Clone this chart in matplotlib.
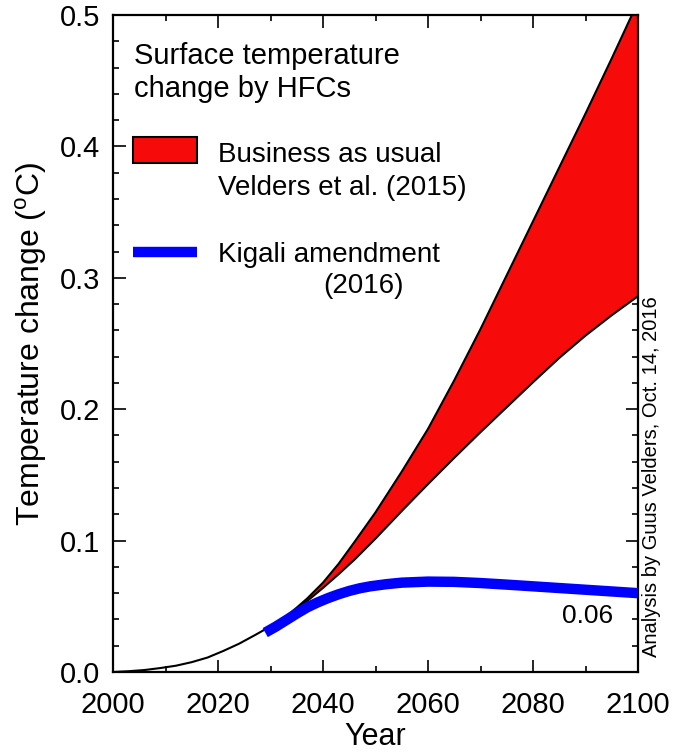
import matplotlib
matplotlib.use("Agg")
import matplotlib.pyplot as plt
from matplotlib.patches import Rectangle
from matplotlib.lines import Line2D
from matplotlib.ticker import MultipleLocator, FormatStrFormatter

plt.rcParams["font.family"] = ["Liberation Sans", "DejaVu Sans"]
plt.rcParams["mathtext.fontset"] = "custom"
plt.rcParams["mathtext.rm"] = "Liberation Sans"

# Historical warming from HFCs
hist_years = [2000, 2003, 2006, 2009, 2012, 2015, 2018, 2021, 2024, 2027, 2029, 2031]
hist_temp = [0.0, 0.0006, 0.0015, 0.0030, 0.0048, 0.0075, 0.0110, 0.0160,
             0.0215, 0.0280, 0.0325, 0.0370]

# Business-as-usual range (Velders et al. 2015)
bau_years = [2031, 2033, 2035, 2037, 2040, 2043, 2046, 2050, 2055, 2060, 2065,
             2070, 2075, 2080, 2085, 2090, 2095, 2100]
bau_high = [0.0370, 0.0425, 0.0490, 0.0560, 0.0680, 0.0825, 0.0990, 0.1215, 0.1525,
            0.1850, 0.2220, 0.2610, 0.3020, 0.3430, 0.3840, 0.4250, 0.4670, 0.5100]
bau_low = [0.0370, 0.0420, 0.0480, 0.0540, 0.0640, 0.0745, 0.0855, 0.1015, 0.1225,
           0.1430, 0.1630, 0.1825, 0.2015, 0.2205, 0.2390, 0.2560, 0.2715, 0.2860]

# Kigali amendment pathway (2016)
kigali_years = [2029, 2031, 2033, 2035, 2037, 2039, 2041, 2043, 2045, 2047,
                2049, 2052, 2055, 2060, 2065, 2070, 2075, 2080, 2085, 2090,
                2095, 2100]
kigali_temp = [0.0300, 0.0345, 0.0395, 0.0445, 0.0492, 0.0530, 0.0563, 0.0592,
               0.0617, 0.0637, 0.0652, 0.0668, 0.0680, 0.0688, 0.0686, 0.0677,
               0.0665, 0.0652, 0.0639, 0.0626, 0.0613, 0.0600]

x_ticks = [2000, 2020, 2040, 2060, 2080, 2100]
y_ticks = [0.0, 0.1, 0.2, 0.3, 0.4, 0.5]

fig = plt.figure(figsize=(6.75, 7.52), dpi=100)
ax = fig.add_axes([113 / 675, 1 - 672 / 752, 525 / 675, 657 / 752])

red = "#f70a0a"
blue = "#0000ff"

ax.fill_between(bau_years, bau_low, bau_high, facecolor=red, edgecolor="none", zorder=2)
ax.plot(bau_years, bau_high, color="black", lw=1.5, zorder=3, solid_joinstyle="round")
ax.plot(bau_years, bau_low, color="black", lw=1.5, zorder=3, solid_joinstyle="round")
ax.plot(hist_years, hist_temp, color="black", lw=1.5, zorder=3, solid_joinstyle="round")
ax.plot(kigali_years, kigali_temp, color=blue, lw=7.5, zorder=4,
        solid_capstyle="butt", solid_joinstyle="round")

ax.text(2095.2, 0.0374, "%.2f" % kigali_temp[-1], ha="right", va="baseline", fontsize=19)

ax.set_xlim(2000, 2100)
ax.set_ylim(0.0, 0.5)
ax.set_xticks(x_ticks)
ax.set_yticks(y_ticks)
ax.xaxis.set_minor_locator(MultipleLocator(10))
ax.yaxis.set_minor_locator(MultipleLocator(0.02))
ax.yaxis.set_major_formatter(FormatStrFormatter("%.1f"))
ax.tick_params(which="both", direction="in", top=True, right=True, width=1.2, labelsize=21)
ax.tick_params(which="major", length=9)
ax.tick_params(which="minor", length=4.5)
ax.tick_params(axis="x", which="major", pad=14)
ax.tick_params(axis="y", which="major", pad=9)
for s in ax.spines.values():
    s.set_linewidth(1.6)

ax.set_xlabel("Year", fontsize=22, labelpad=2)
ax.set_ylabel(r"Temperature change ($^\mathrm{o}$C)", fontsize=23, labelpad=8)

# Key and heading inside the plot area
ta = ax.transAxes
ax.text(0.040, 0.9254, "Surface temperature", transform=ta, fontsize=21, va="baseline")
ax.text(0.040, 0.8752, "change by HFCs", transform=ta, fontsize=21, va="baseline")

ax.add_patch(Rectangle((0.038, 0.7747), 0.122, 0.0396, transform=ta,
                       facecolor=red, edgecolor="black", lw=1.5, zorder=5))
ax.text(0.200, 0.7763, "Business as usual", transform=ta, fontsize=20, va="baseline")
ax.text(0.200, 0.7260, "Velders et al. (2015)", transform=ta, fontsize=20, va="baseline")

ax.add_line(Line2D([0.038, 0.160], [0.639, 0.639], transform=ta, color=blue,
                   lw=7.5, solid_capstyle="butt", zorder=5))
ax.text(0.200, 0.6240, "Kigali amendment", transform=ta, fontsize=20, va="baseline")
ax.text(0.400, 0.5769, "(2016)", transform=ta, fontsize=20, va="baseline")

ax.text(1.025, 0.023, "Analysis by Guus Velders, Oct. 14, 2016", transform=ta,
        rotation=90, ha="center", va="bottom", fontsize=14.5)

fig.savefig("out.png", dpi=100)
